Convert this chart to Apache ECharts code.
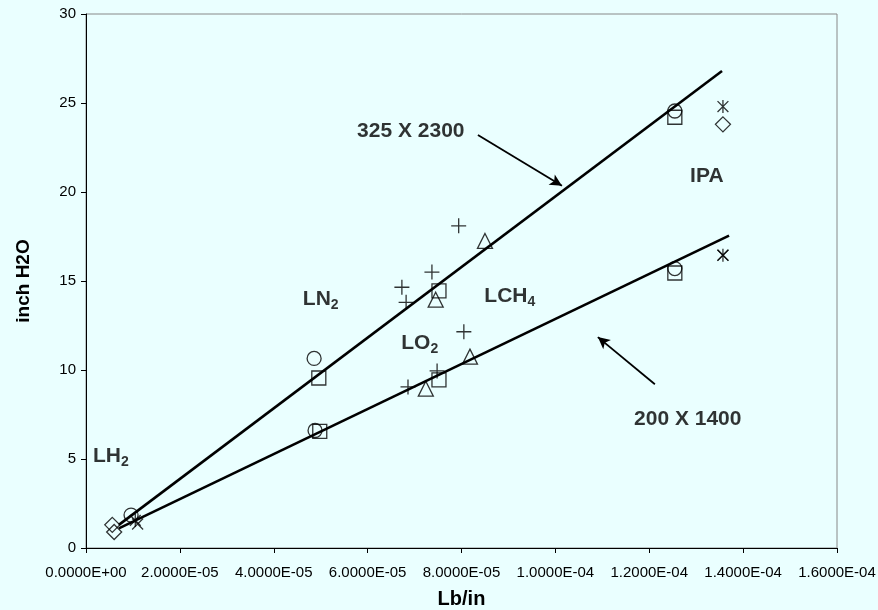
<!DOCTYPE html>
<html><head><meta charset="utf-8">
<script src="https://cdn.jsdelivr.net/npm/echarts@6/dist/echarts.min.js"></script>
<style>html,body{margin:0;padding:0;background:#EAFFFF;}#c{width:878px;height:610px;}</style>
</head><body><div id="c"></div>
<script>
// ---- data ----
const xTicks = [0, 2e-5, 4e-5, 6e-5, 8e-5, 1e-4, 1.2e-4, 1.4e-4, 1.6e-4];
const yTicks = [0, 5, 10, 15, 20, 25, 30];
const diamondPts = [[5.6e-6, 1.3], [6.0e-6, 0.9], [1.357e-4, 23.8]];
const squarePts = [[4.96e-5, 9.55], [4.98e-5, 6.55], [7.52e-5, 14.45], [7.52e-5, 9.45], [1.2545e-4, 24.2], [1.2545e-4, 15.45]];
const trianglePts = [[7.45e-5, 13.95], [8.5e-5, 17.25], [8.18e-5, 10.75], [7.24e-5, 8.95]];
const xPts = [[1.1e-5, 1.35], [1.357e-4, 16.45]];
const starPts = [[1.05e-5, 1.55], [1.357e-4, 24.8], [1.357e-4, 16.45]];
const circlePts = [[9.6e-6, 1.85], [4.86e-5, 10.65], [4.88e-5, 6.6], [1.2545e-4, 24.55], [1.2545e-4, 15.7]];
const plusPts = [[7.94e-5, 18.1], [7.37e-5, 15.5], [6.73e-5, 14.65], [6.82e-5, 13.8], [8.05e-5, 12.15], [7.48e-5, 9.95], [6.86e-5, 9.05]];
const fitUpper = [[7e-6, 1.3], [1.355e-4, 26.8]];
const fitLower = [[7e-6, 1.1], [1.37e-4, 17.55]];
const arrowUpper = [[8.35e-5, 23.2], [1.014e-4, 20.35]];
const arrowLower = [[1.212e-4, 9.2], [1.0905e-4, 11.85]];
const annoText = ['325 X 2300', '200 X 1400', 'IPA', 'LCH{s|4}', 'LO{s|2}', 'LN{s|2}', 'LH{s|2}'];
const annoPos = [[6.92e-5, 23.43], [1.282e-4, 7.25], [1.3227e-4, 20.9], [9.03e-5, 14.16], [7.11e-5, 11.52], [5.0e-5, 13.98], [5.3e-6, 5.17]];

function sci(v) {
  if (v === 0) return '0.0000E+00';
  let e = Math.floor(Math.log10(Math.abs(v)));
  let m = v / Math.pow(10, e);
  if (Math.abs(m) >= 9.99995) { m /= 10; e++; }
  return m.toFixed(4) + 'E' + (e < 0 ? '-' : '+') + String(Math.abs(e)).padStart(2, '0');
}

const SYM = {
  plus: 'path://M0,7L14,7M7,0L7,14',
  x: 'path://M0,0L10,10M10,0L0,10',
  star: 'path://M0,0L10,10M10,0L0,10M5,-1L5,11'
};
function markerSeries(data, symbol, size) {
  return {
    type: 'scatter', data: data, symbol: symbol, symbolSize: size, symbolKeepAspect: true,
    itemStyle: { color: 'rgba(0,0,0,0)', borderColor: '#000', borderWidth: 1.3 },
    emphasis: { disabled: true }, z: 3
  };
}
const chart = echarts.init(document.getElementById('c'));
const option = {
  backgroundColor: '#EAFFFF',
  animation: false,
  grid: { left: 86, right: 41, top: 14, bottom: 62, containLabel: false, outerBoundsMode: 'none', show: true, borderColor: '#888', borderWidth: 1 },
  xAxis: {
    type: 'value', min: xTicks[0], max: xTicks[xTicks.length - 1], interval: xTicks[1] - xTicks[0],
    name: 'Lb/in', nameLocation: 'middle', nameGap: 41,
    nameTextStyle: { fontFamily: 'Liberation Sans', fontWeight: 'bold', fontSize: 20, color: '#000' },
    axisLine: { onZero: false, lineStyle: { color: '#000', width: 1 } },
    axisTick: { show: true, inside: false, length: 5, lineStyle: { color: '#000' } },
    axisLabel: { formatter: sci, fontFamily: 'Liberation Sans', fontSize: 15, color: '#000', margin: 17 },
    splitLine: { show: false }
  },
  yAxis: {
    type: 'value', min: yTicks[0], max: yTicks[yTicks.length - 1], interval: yTicks[1] - yTicks[0],
    name: 'inch H2O', nameLocation: 'middle', nameGap: 53,
    nameTextStyle: { fontFamily: 'Liberation Sans', fontWeight: 'bold', fontSize: 19, color: '#000' },
    axisLine: { show: true, onZero: false, lineStyle: { color: '#000', width: 1 } },
    axisTick: { show: true, inside: false, length: 5, lineStyle: { color: '#000' } },
    axisLabel: { fontFamily: 'Liberation Sans', fontSize: 15, color: '#000', margin: 10 },
    splitLine: { show: false }
  },
  series: [
    { type: 'line', data: fitUpper, symbol: 'none', lineStyle: { color: '#000', width: 2.6 }, z: 4, silent: true },
    { type: 'line', data: fitLower, symbol: 'none', lineStyle: { color: '#000', width: 2.6 }, z: 4, silent: true },
    markerSeries(diamondPts, 'diamond', 15),
    markerSeries(squarePts, 'rect', 14),
    markerSeries(trianglePts, 'triangle', 15),
    markerSeries(xPts, SYM.x, 11),
    markerSeries(starPts, SYM.star, 13),
    markerSeries(circlePts, 'circle', 14),
    markerSeries(plusPts, SYM.plus, 15),
    {
      type: 'scatter', data: [], silent: true,
      markLine: {
        silent: true, symbol: ['none', 'arrow'], symbolSize: [9, 12],
        lineStyle: { color: '#000', width: 1.8, type: 'solid' }, label: { show: false },
        data: [
          [{ coord: arrowUpper[0] }, { coord: arrowUpper[1] }],
          [{ coord: arrowLower[0] }, { coord: arrowLower[1] }]
        ]
      }
    },
    {
      type: 'scatter', symbolSize: 0, silent: true, z: 5,
      itemStyle: { color: '#000' },
      data: annoPos.map((p, i) => ({ value: p, name: annoText[i] })),
      label: {
        show: true, position: 'inside', formatter: p => p.name,
        fontFamily: 'Liberation Sans', fontWeight: 'bold', fontSize: 21, color: '#000',
        textBorderWidth: 0, textShadowBlur: 0,
        rich: { s: { fontFamily: 'Liberation Sans', fontWeight: 'bold', fontSize: 14, color: '#000', textBorderWidth: 0, padding: [12, 0, 0, 0] } }
      }
    }
  ]
};
chart.setOption(option);
</script>
</body></html>
